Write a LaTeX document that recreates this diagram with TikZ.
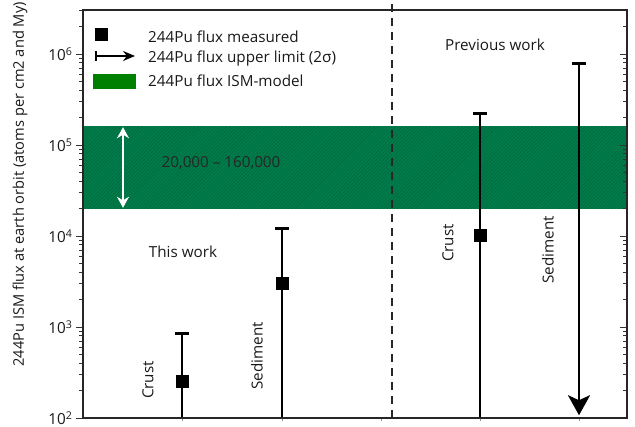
\documentclass[tikz,border=0pt]{standalone}
\usepackage{fontspec}
\setmainfont{Open Sans}
\usetikzlibrary{patterns,arrows.meta}

\definecolor{bandgreen}{RGB}{0,125,75}
\definecolor{bandline}{RGB}{0,102,58}
\definecolor{legendgreen}{RGB}{0,128,0}
\definecolor{txt}{RGB}{25,25,25}

\tikzset{
  axisline/.style={line width=1.3pt,black!85},
  tickline/.style={line width=0.7pt,black!80},
  errbar/.style={line width=2.4pt,black},
  datamark/.style={rectangle,fill=black,inner sep=0pt,minimum size=0.39cm},
  samplelabel/.style={rotate=90,text=txt},
  plaintext/.style={text=txt}
}

\begin{document}
\begin{tikzpicture}[x=0.03cm,y=0.03cm,font=\fontsize{13}{15}\selectfont]
\useasboundingbox (0,0) rectangle (635,427);

% plot area: x in pixels, y in decades above 10^2
\begin{scope}[shift={(0,9)},y=2.73cm]
% ISM-model band
\fill[bandgreen] (83,2.301) rectangle (627,3.204);
\fill[pattern=north east lines,pattern color=bandline] (83,2.301) rectangle (627,3.204);

% ticks
\foreach \d/\e in {0/2,1/3,2/4,3/5,4/6} {
  \draw[tickline] (76,\d) -- (83,\d);
  \draw[tickline] (620,\d) -- (627,\d);
  \node[plaintext,anchor=east,inner sep=1pt] (tick\e) at (74,\d) {10\textsuperscript{\e}};
}
\foreach \d in {0,...,3}
  \foreach \k in {2,...,9} {
    \draw[tickline] (79,{\d+log10(\k)}) -- (83,{\d+log10(\k)});
    \draw[tickline] (623,{\d+log10(\k)}) -- (627,{\d+log10(\k)});
  }
\foreach \k in {2,3} {
  \draw[tickline] (79,{4+log10(\k)}) -- (83,{4+log10(\k)});
  \draw[tickline] (623,{4+log10(\k)}) -- (627,{4+log10(\k)});
}
\foreach \x in {182,282,381,480,579}
  \draw[line width=0.5pt,black!40] (\x,0) -- (\x,-0.03);

% separator
\draw[line width=1.3pt,black!85,dash pattern=on 0.24cm off 0.18cm] (392,0) -- (392,4.571);

% this work
\node[datamark] (crustA) at (182,0.398) {};
\coordinate (crustAtop) at (182,0.929);
\coordinate (crustAbot) at (182,0);
\draw[errbar] (crustAbot) -- (crustAtop);
\draw[errbar] ([xshift=-0.21cm]crustAtop) -- ([xshift=0.21cm]crustAtop);

\node[datamark] (sedA) at (282,1.477) {};
\coordinate (sedAtop) at (282,2.079);
\coordinate (sedAbot) at (282,0);
\draw[errbar] (sedAbot) -- (sedAtop);
\draw[errbar] ([xshift=-0.21cm]sedAtop) -- ([xshift=0.21cm]sedAtop);

% previous work
\node[datamark] (crustB) at (480,2.0) {};
\coordinate (crustBtop) at (480,3.342);
\coordinate (crustBbot) at (480,0);
\draw[errbar] (crustBbot) -- (crustBtop);
\draw[errbar] ([xshift=-0.21cm]crustBtop) -- ([xshift=0.21cm]crustBtop);

\coordinate (sedBtop) at (579,3.892);
\coordinate (sedBbot) at (579,0.03);
\draw[errbar,-{Stealth[length=0.6cm,width=0.66cm,inset=0.15cm]}] (sedBtop) -- (sedBbot);
\draw[errbar] ([xshift=-0.21cm]sedBtop) -- ([xshift=0.21cm]sedBtop);

% band range
\draw[white,line width=1.5pt,{Stealth[length=0.33cm,width=0.36cm]}-{Stealth[length=0.33cm,width=0.36cm]}] (123,2.31) -- (123,3.195);
\node[text=black!85] (range) at (221,2.802) {20,000 – 160,000};

% labels
\node[samplelabel] (crustAlab) at (148,0.418) {Crust};
\node[samplelabel] (sedAlab) at (257,0.681) {Sediment};
\node[samplelabel] (crustBlab) at (448,1.923) {Crust};
\node[samplelabel] (sedBlab) at (548,1.846) {Sediment};
\node[plaintext] (thiswork) at (183,1.824) {This work};
\node[plaintext] (prevwork) at (495,4.099) {Previous work};

% frame
\draw[axisline] (83,0) rectangle (627,4.484);
\end{scope}

% axis title
\node[plaintext,rotate=90,anchor=east,inner sep=0pt,font=\fontsize{12.5}{15}\selectfont] (ytitle) at (20,425) {244Pu ISM flux at earth orbit (atoms per cm2 and My)};

% legend
\node[datamark] (legmeas) at (101,392) {};
\draw[line width=1.6pt,{Bar[width=0.3cm]}-{Stealth[length=0.36cm,width=0.3cm]}] (95,371) -- (135,371);
\fill[legendgreen] (93,338) rectangle (136,353);
\node[plaintext,anchor=west,inner sep=0pt] (legA) at (148,390) {244Pu flux measured};
\node[plaintext,anchor=west,inner sep=0pt] (legB) at (148,368) {244Pu flux upper limit (2σ)};
\node[plaintext,anchor=west,inner sep=0pt] (legC) at (148,346) {244Pu flux ISM-model};
\end{tikzpicture}
\end{document}
